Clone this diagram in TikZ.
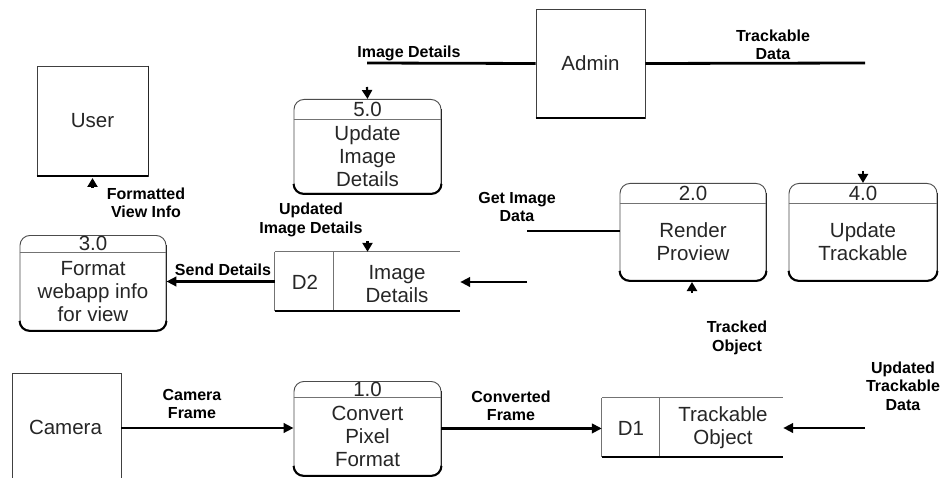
\documentclass[tikz,border=0pt]{standalone}
\usepackage{fontspec}
\setmainfont{Liberation Sans}
\usetikzlibrary{arrows.meta,calc}
\newcommand\dfdproc[8]{%
  \node[procbox, minimum width=#4pt, minimum height=#5pt, anchor=north] (#1) at (#2,#3) {};
  \coordinate (#1hl) at ($(#1.north west)+(0,#6)$);
  \coordinate (#1hr) at ($(#1.north east)+(0,#6)$);
  \coordinate (#1hm) at ($(#1.north)+(0,#6)$);
  \draw[divline] (#1hl) -- (#1hr);
  \draw[sideshade] ($(#1.north east)+(0,10)$) -- ($(#1.south east)+(0,-10)$);
  \draw[shade, rounded corners=10pt] ($(#1.south west)+(0,-10)$) -- (#1.south west) -- (#1.south east) -- ($(#1.south east)+(0,-10)$);
  \node[boxtext] (#1num) at ($(#1.north)+(0,#6/2)$) {#7};
  \node[boxtext] (#1body) at ($(#1hm)!0.5!(#1.south)$) {#8};
}
\begin{document}
\begin{tikzpicture}[x=1pt,y=-1pt,
  boxtext/.style={font=\fontsize{20.5}{23}\selectfont, text=black!85, align=center, inner sep=0pt},
  lbl/.style={font=\fontsize{16}{18.5}\selectfont\bfseries, align=center, inner sep=0pt},
  entity/.style={draw=black!75, line width=0.9pt, inner sep=0pt},
  procbox/.style={draw=black!70, line width=0.9pt, rounded corners=10pt, inner sep=0pt},
  divline/.style={draw=black!55, line width=0.8pt},
  shade/.style={draw=black, line width=2pt},
  sideshade/.style={draw=black!85, line width=1.3pt},
  flow/.style={draw=black, line width=2.8pt, -{Triangle[length=10pt,width=9.5pt]}},
  plain/.style={draw=black, line width=2.8pt},
  thinflow/.style={draw=black, line width=1.2pt},
  stub/.style={draw=black, line width=2.2pt, -{Triangle[length=9pt,width=10pt]}},
]
\path[use as bounding box] (0,0) rectangle (941,478);
\fill[white] (0,0) rectangle (941,478);
\clip (0,0) rectangle (941,478);

% external entities
\node[entity, minimum width=111pt, minimum height=110pt] (user) at (92.5,121) {};
\node[boxtext] (usertxt) at (user.center) {User};
\draw[sideshade] (user.north east) -- (user.south east);
\draw[shade] (user.south west) -- (user.south east);

\node[entity, minimum width=109pt, minimum height=109pt] (admin) at (590.5,63.5) {};
\node[boxtext] (admintxt) at (admin.center) {Admin};
\draw[shade] (admin.south west) -- (admin.south east);

\node[entity, minimum width=109pt, minimum height=140pt] (cam) at (66.5,443) {};
\node[boxtext] (camtxt) at (65.5,427) {Camera};

% processes
\dfdproc{p5}{367.5}{99}{147}{94}{20}{5.0}{Update\\Image\\Details}
\dfdproc{p3}{93}{235}{146}{95}{17}{3.0}{Format\\webapp info\\for view}
\dfdproc{p2}{693}{183}{146}{97}{20}{2.0}{Render\\Proview}
\dfdproc{p4}{863}{183}{148}{97}{20}{4.0}{Update\\Trackable}
\dfdproc{p1}{367.5}{381}{147}{94}{16}{1.0}{Convert\\Pixel\\Format}

% data stores
\node[inner sep=0pt, minimum width=185pt, minimum height=59pt] (d2) at (367.5,281.5) {};
\coordinate (d2div) at ($(d2.north west)+(59,0)$);
\draw[divline] (d2.north west) -- (d2.north east);
\draw[divline] (d2.north west) -- (d2.south west);
\draw[divline] (d2div) -- (d2div |- d2.south);
\draw[shade] (d2.south west) -- (d2.south east);
\node[boxtext] (d2id) at (305,282) {D2};
\node[boxtext] (d2txt) at (397,284) {Image\\Details};

\node[inner sep=0pt, minimum width=181pt, minimum height=59pt] (d1) at (692.5,427.5) {};
\coordinate (d1div) at ($(d1.north west)+(58,0)$);
\draw[divline] (d1.north west) -- (d1.north east);
\draw[divline] (d1.north west) -- (d1.south west);
\draw[divline] (d1div) -- (d1div |- d1.south);
\draw[shade] (d1.south west) -- (d1.south east);
\node[boxtext] (d1id) at (631,428) {D1};
\node[boxtext] (d1txt) at (723,428) {Trackable\\Object};

% connectors
\coordinate (imgd) at (367,63);
\draw[plain] (admin.west) -- (imgd);
\node[lbl] (limgd) at (409,53) {Image Details};
\coordinate (s5) at (367,87);
\draw[stub] (s5) -- (p5.north);

\coordinate (trk) at (865,63);
\draw[plain] (admin.east) -- (trk);
\node[lbl] (ltrk) at (773,45) {Trackable\\Data};
\coordinate (s4) at (863,171);
\draw[stub] (s4) -- (p4.north);

\coordinate (su) at (92.5,188);
\coordinate (sut) at (92.5,178);
\draw[stub] (su) -- (sut);
\node[lbl] (lfvi) at (146,203) {Formatted\\View Info};

\node[lbl] (luid) at (311,220) {Updated\\Image Details};
\coordinate (sd2) at (367.5,241);
\draw[stub] (sd2) -- (d2.north);

\draw[flow] (d2.west) -- (d2.west -| p3.east);
\node[lbl] (lsend) at (223,270) {Send Details};

\coordinate (in2) at (527,282);
\draw[flow] (in2) -- (in2 -| d2.east);

\coordinate (gid) at (527,231);
\draw[thinflow] (gid) -- (gid -| p2.west);
\node[lbl] (lgid) at (517,207) {Get Image\\Data};

\coordinate (s2) at (692,293);
\coordinate (s2t) at (692,282);
\draw[stub] (s2) -- (s2t);
\node[lbl] (ltob) at (737,338) {Tracked\\Object};

\coordinate (camr) at (121,428);
\draw[flow] (camr) -- (camr -| p1.west);
\node[lbl] (lcf) at (192,404) {Camera\\Frame};

\draw[flow] (p1.east) -- (p1.east -| d1.west);
\node[lbl] (lcvf) at (511,406) {Converted\\Frame};

\coordinate (in1) at (865,428);
\draw[flow] (in1) -- (in1 -| d1.east);
\node[lbl] (lutd) at (903,386) {Updated\\Trackable\\Data};
\end{tikzpicture}
\end{document}
